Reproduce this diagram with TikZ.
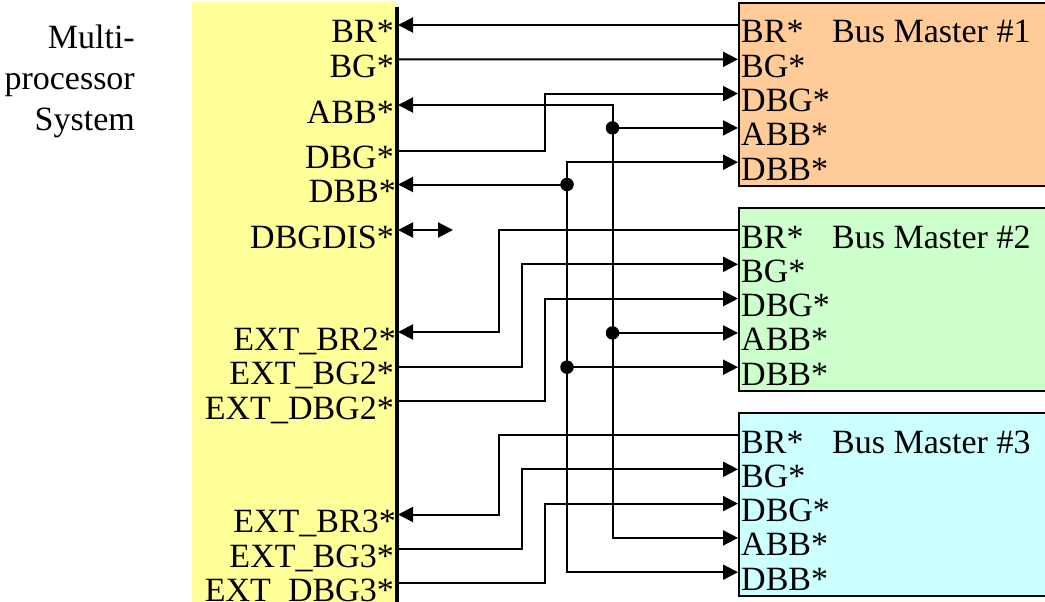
\documentclass[tikz,border=0pt]{standalone}
\usepackage{fontspec}
\setmainfont{Liberation Serif}
\usetikzlibrary{arrows.meta}
\definecolor{sysfill}{HTML}{FFFF99}
\definecolor{monefill}{HTML}{FFCC99}
\definecolor{mtwofill}{HTML}{CCFFCC}
\definecolor{mthreefill}{HTML}{CCFFFF}

\begin{document}
\begin{tikzpicture}[
    x=1pt, y=-1pt,
    every node/.style={font=\fontsize{34}{41.5}\selectfont},
    sysbar/.style={rectangle, draw=none, fill=sysfill, minimum width=204pt, minimum height=600pt, anchor=north west, inner sep=0pt},
    master/.style={rectangle, draw=black, line width=1.8pt, minimum width=309pt, minimum height=183pt, anchor=north west, inner sep=0pt},
    syspin/.style={anchor=east, inner ysep=0pt, inner xsep=4pt, text height=36pt, text depth=0pt},
    mpin/.style={anchor=west, inner ysep=0pt, inner xsep=3pt, text height=36pt, text depth=0pt},
    title/.style={anchor=base west, inner sep=0pt},
    junction/.style={circle, fill=black, draw=none, minimum size=13.5pt, inner sep=0pt},
    wire/.style={line width=2pt},
    arrow/.style={wire, -{Triangle[length=15pt,width=15pt]}}
  ]
    \useasboundingbox (0,0) rectangle (1045,602);

    % System side
    \node[sysbar] (sys) at (192,2) {};
    \draw[line width=4pt] (397,7) -- (397,602);
    \node[anchor=base east, align=right, inner sep=0pt] (caption) at (135,131) {Multi-\\processor\\System};

    % Bus masters
    \node[master, fill=monefill] (mone) at (738,2) {};
    \node[master, fill=mtwofill] (mtwo) at (738,207) {};
    \node[master, fill=mthreefill] (mthree) at (738,412) {};
    \node[title] (tone) at (832,43) {Bus Master \#1};
    \node[title] (ttwo) at (832,248) {Bus Master \#2};
    \node[title] (tthree) at (832,453) {Bus Master \#3};

    % Pins of the masters
    \foreach \m/\y in {one/25, two/230, three/435} {
      \node[mpin] (brm\m) at (738,\y) {BR*};
      \node[mpin] (bgm\m) at (738,\y+34.3) {BG*};
      \node[mpin] (dbgm\m) at (738,\y+68.6) {DBG*};
      \node[mpin] (abbm\m) at (738,\y+102.9) {ABB*};
      \node[mpin] (dbbm\m) at (738,\y+137.2) {DBB*};
    }

    % Pins of the system
    \node[syspin] (brsys) at (398,25) {BR*};
    \node[syspin] (bgsys) at (398,59.5) {BG*};
    \node[syspin] (abbsys) at (398,105) {ABB*};
    \node[syspin] (dbgsys) at (398,150.5) {DBG*};
    \node[syspin, inner xsep=2pt] (dbbsys) at (398,184.5) {DBB*};
    \node[syspin] (dissys) at (398,230) {DBGDIS*};
    \node[syspin, inner xsep=2pt] (brtwo) at (398,332) {EXT\_BR2*};
    \node[syspin] (bgtwo) at (398,366.5) {EXT\_BG2*};
    \node[syspin] (dbgtwo) at (398,401) {EXT\_DBG2*};
    \node[syspin, inner xsep=2pt] (brthree) at (398,514.5) {EXT\_BR3*};
    \node[syspin] (bgthree) at (398,549) {EXT\_BG3*};
    \node[syspin] (dbgthree) at (398,583) {EXT\_DBG3*};
    \coordinate (disend) at (453,230);

    % Rails
    \coordinate (railbr) at (499,0);
    \coordinate (railbg) at (521.7,0);
    \coordinate (raildbg) at (544.7,0);
    \coordinate (raildbb) at (567,0);
    \coordinate (railabb) at (612.5,0);

    % Junctions
    \node[junction] (abbone) at (railabb |- abbmone.west) {};
    \node[junction] (abbtwo) at (railabb |- abbmtwo.west) {};
    \node[junction] (dbbone) at (raildbb |- dbbsys.east) {};
    \node[junction] (dbbtwo) at (raildbb |- dbbmtwo.west) {};

    % Master 1
    \draw[arrow] (brmone.west) -- (brsys.east);
    \draw[arrow] (bgsys.east) -- (bgmone.west);
    \draw[arrow] (dbgsys.east) -| (raildbg |- dbgmone.west) -- (dbgmone.west);
    \draw[arrow] (abbone.center) |- (abbsys.east);
    \draw[arrow] (abbone.center) -- (abbmone.west);
    \draw[arrow] (dbbone.center) -- (dbbsys.east);
    \draw[arrow] (dbbone.center) |- (dbbmone.west);
    \draw[{Triangle[length=15pt,width=15pt]}-{Triangle[length=15pt,width=15pt]}, wire] (dissys.east) -- (disend);

    % Master 2
    \draw[arrow] (brmtwo.west) -| (railbr |- brtwo.east) -- (brtwo.east);
    \draw[arrow] (bgtwo.east) -| (railbg |- bgmtwo.west) -- (bgmtwo.west);
    \draw[arrow] (dbgtwo.east) -| (raildbg |- dbgmtwo.west) -- (dbgmtwo.west);
    \draw[arrow] (abbtwo.center) -- (abbmtwo.west);
    \draw[arrow] (dbbtwo.center) -- (dbbmtwo.west);

    % Master 3
    \draw[arrow] (brmthree.west) -| (railbr |- brthree.east) -- (brthree.east);
    \draw[arrow] (bgthree.east) -| (railbg |- bgmthree.west) -- (bgmthree.west);
    \draw[arrow] (dbgthree.east) -| (raildbg |- dbgmthree.west) -- (dbgmthree.west);

    % Long runs down from the junctions
    \draw[arrow] (abbone.center) |- (abbmthree.west);
    \draw[arrow] (dbbone.center) |- (dbbmthree.west);
  \end{tikzpicture}
\end{document}
